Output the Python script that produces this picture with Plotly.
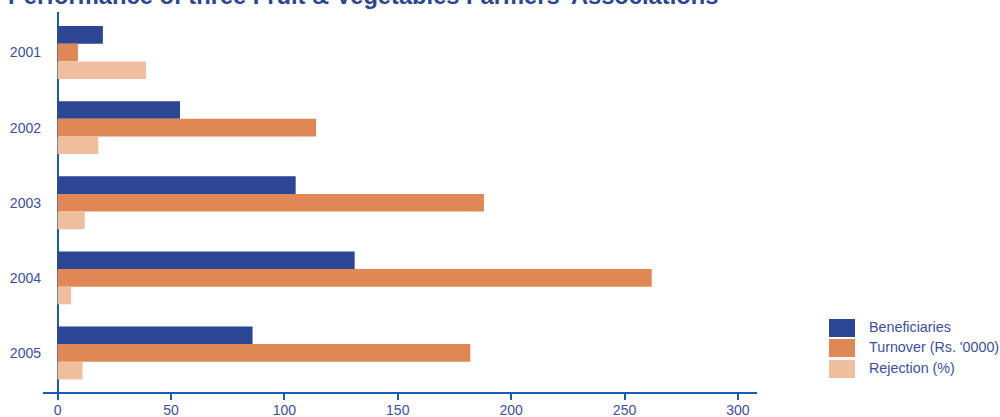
import plotly.graph_objects as go

years = ["2001", "2002", "2003", "2004", "2005"]
series_names = ["Beneficiaries", "Turnover (Rs. '0000)", "Rejection (%)"]
beneficiaries = [20, 54, 105, 131, 86]
turnover = [9, 114, 188, 262, 182]
rejection = [39, 18, 12, 6, 11]
x_ticks = [0, 50, 100, 150, 200, 250, 300]
colors = ["#2c4594", "#e08756", "#efbe9e"]
title_text = "Performance of three Fruit & Vegetables Farmers' Associations"

TEXT = "#3b4f9d"
AXIS = "#1b5bab"
FONT = "Liberation Sans, Arial, sans-serif"

fig = go.Figure()
for name, vals, col in zip(series_names, [beneficiaries, turnover, rejection], colors):
    fig.add_trace(go.Bar(y=years, x=vals, name=name, orientation="h",
                         marker=dict(color=col, line=dict(width=0)), showlegend=False))

# plot area in pixels: x 43..757, y 12..392
L, R, T, B = 43, 243, 12, 25
W, H = 1000, 417
pw, ph = W - L - R, H - T - B

def px_x(p):
    return (p - L) / pw

def px_y(p):
    return (H - B - p) / ph

# custom legend
sw_tops = [319, 339, 360]
for name, col, top in zip(series_names, colors, sw_tops):
    fig.add_shape(type="rect", xref="paper", yref="paper",
                  x0=px_x(829), x1=px_x(855), y0=px_y(top + 18), y1=px_y(top),
                  fillcolor=col, line=dict(width=0))
    fig.add_annotation(xref="paper", yref="paper", x=px_x(867), y=px_y(top + 7.5),
                       text=name, showarrow=False, xanchor="left", yanchor="middle",
                       font=dict(family=FONT, size=14.3, color=TEXT))

fig.add_annotation(xref="paper", yref="paper", x=px_x(6), y=px_y(-4),
                   text="<b>" + title_text + "</b>", showarrow=False,
                   xanchor="left", yanchor="middle",
                   font=dict(family=FONT, size=23.7, color="#2b4590"))

fig.update_layout(
    width=W, height=H,
    margin=dict(l=L, r=R, t=T, b=B, pad=0, autoexpand=False),
    paper_bgcolor="white", plot_bgcolor="white",
    barmode="group", bargap=0.295, bargroupgap=0,
    font=dict(family=FONT, size=14, color=TEXT),
    xaxis=dict(range=[-6.4, 308.4], tickvals=x_ticks, showgrid=False,
               showline=True, linecolor=AXIS, linewidth=1.5,
               ticks="outside", ticklen=6, tickcolor=AXIS, tickwidth=1.5,
               zeroline=True, zerolinecolor=AXIS, zerolinewidth=1.5,
               automargin=False, ticklabelstandoff=-2,
               tickfont=dict(size=14, color=TEXT), fixedrange=True),
    yaxis=dict(categoryorder="array", categoryarray=years,
               range=[4.52, -0.54], showgrid=False, showline=False,
               zeroline=False, ticks="", ticklabelstandoff=1, automargin=False,
               tickfont=dict(size=14, color=TEXT), fixedrange=True),
)

fig.write_html("out.html")
